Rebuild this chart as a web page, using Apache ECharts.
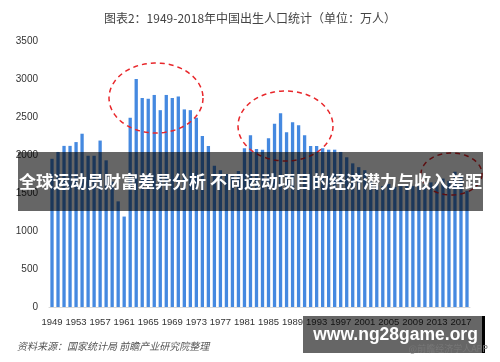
<!DOCTYPE html>
<html><head><meta charset="utf-8">
<script src="https://cdn.jsdelivr.net/npm/echarts@6/dist/echarts.min.js"></script>
<style>html,body{margin:0;padding:0;background:#fff}#c{width:500px;height:362px}</style>
</head><body><div id="c"></div>
<script>
const years = [];
for (let y = 1949; y <= 2018; y++) years.push(String(y));
const births = [
 1950,2040,2120,2120,2170,2280,1990,1990,2190,1930,
 1650,1390,1190,2490,3000,2750,2740,2790,2590,2790,
 2750,2770,2600,2590,2490,2250,2120,1860,1800,1750,
 1740,1790,2090,2260,2080,2070,2220,2410,2550,2300,
 2430,2390,2260,2120,2120,2090,2070,2070,2040,1970,
 1890,1840,1800,1650,1600,1590,1620,1580,1590,1610,
 1590,1590,1600,1640,1640,1690,1660,1780,1720,1530
];
const yTicks = [0,500,1000,1500,2000,2500,3000,3500];
const titleText = '图表2：1949-2018年中国出生人口统计（单位：万人）';
const bannerText = '全球运动员财富差异分析 不同运动项目的经济潜力与收入差距';
const sourceText = '资料来源：国家统计局 前瞻产业研究院整理';
const siteText = 'www.ng28game.org';
const appText = '@前瞻经济学人APP';

function ellipse(cx, cy, rx, ry, n) {
  const pts = [];
  for (let i = 0; i < n; i++) {
    const a = i / n * Math.PI * 2;
    pts.push([cx + rx * Math.cos(a), cy + ry * Math.sin(a)]);
  }
  return pts;
}
const dashStyle = {fill: 'none', stroke: '#e8272b', lineWidth: 1.5, lineDash: [5, 4]};

const chart = echarts.init(document.getElementById('c'), null, {renderer: 'canvas'});
chart.setOption({
  animation: false,
  backgroundColor: '#fff',
  title: {text: titleText, left: 'center', top: 7,
    textStyle: {fontSize: 12, fontWeight: 'normal', color: '#444', fontFamily: 'Noto Sans CJK SC'}},
  grid: {left: 49, right: 30, top: 41, bottom: 55},
  xAxis: {type: 'category', data: years,
    axisLine: {lineStyle: {color: '#d9d9d9'}}, axisTick: {show: false},
    axisLabel: {interval: 3, color: '#333', fontSize: 9.5, margin: 10, fontFamily: 'Liberation Sans'}},
  yAxis: {type: 'value', min: 0, max: 3500, interval: 500,
    splitLine: {show: false}, axisLine: {show: false}, axisTick: {show: false},
    axisLabel: {color: '#333', fontSize: 10, margin: 11, fontFamily: 'Liberation Sans',
      formatter: v => String(v)}},
  series: [{type: 'bar', data: births, barWidth: '55%',
    itemStyle: {color: '#4589e0'}}],
  graphic: [
    {type: 'polygon', z: 50, shape: {points: ellipse(156, 98, 47, 35, 90)}, style: dashStyle},
    {type: 'polygon', z: 50, shape: {points: ellipse(285.5, 126, 47.5, 35, 90)}, style: dashStyle},
    {type: 'polygon', z: 50, shape: {points: ellipse(451.5, 174, 30.5, 21, 70)}, style: dashStyle},
    {type: 'text', z: 40, left: 17, top: 341,
      style: {text: sourceText, fontSize: 10, fontStyle: 'italic', fill: '#555', fontFamily: 'Noto Sans CJK SC'}},
    {type: 'rect', z: 60, shape: {x: 18, y: 152, width: 465, height: 59}, style: {fill: 'rgba(0,0,0,0.6)'}},
    {type: 'text', z: 61, x: 250.5, y: 182,
      style: {text: bannerText, fontSize: 17, fontWeight: 'bold', fill: '#fff', align: 'center', verticalAlign: 'middle', fontFamily: 'Noto Sans CJK SC'}},
    {type: 'rect', z: 60, shape: {x: 303, y: 316, width: 180, height: 37}, style: {fill: 'rgba(0,0,0,0.6)'}},
    {type: 'rect', z: 60, shape: {x: 482, y: 316, width: 3, height: 37}, style: {fill: '#000'}},
    {type: 'text', z: 61, x: 395.5, y: 335,
      style: {text: siteText, fontSize: 17.5, fontWeight: 'bold', fill: '#fff', align: 'center', verticalAlign: 'middle', fontFamily: 'Liberation Sans'}},
    {type: 'text', z: 62, x: 488, y: 349,
      style: {text: appText, fontSize: 9, fill: '#777', align: 'right', verticalAlign: 'middle', fontFamily: 'Noto Sans CJK SC'}}
  ]
});
</script></body></html>
